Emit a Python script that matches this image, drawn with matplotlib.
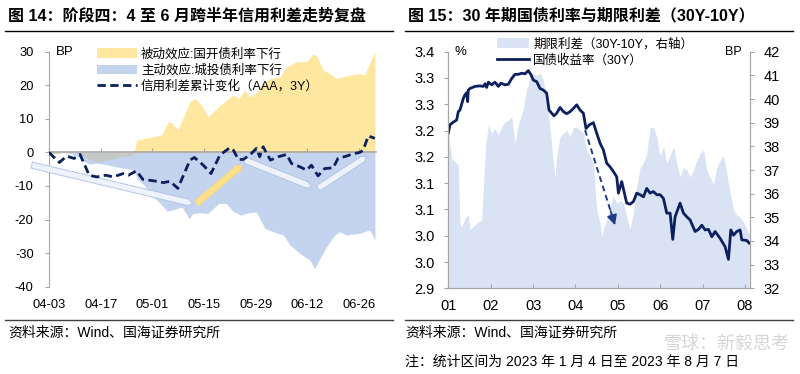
import matplotlib
matplotlib.use("Agg")
import matplotlib.pyplot as plt
from matplotlib.patches import Patch
from matplotlib.lines import Line2D

plt.rcParams['font.family'] = ['Liberation Sans', 'Noto Sans CJK SC', 'DejaVu Sans']
plt.rcParams['axes.unicode_minus'] = False

# ---------- 图14 数据 (x = 距 04-03 的天数) ----------
TICK_DAYS = [0, 14, 28, 42, 56, 70, 84]
TICK_LABELS_14 = ['04-03', '04-17', '05-01', '05-15', '05-29', '06-12', '06-26']

# 被动效应:国开债利率下行
passive_days = [0, 2, 4, 6, 8, 10, 12, 14, 16, 18, 20, 22, 23, 23.7, 27, 30.5, 32.3, 33.2, 35,
                38.2, 39.5, 41.3, 43.1, 44.5, 45.9, 48.1, 49.9, 51.5, 53.1, 54.4, 56, 58, 59.8,
                62.6, 64.4, 67, 69.8, 71.6, 72.5, 74.3, 76.1, 77.9, 79.5, 81.5, 84.2, 85.5, 88.3]
passive_vals = [0, -0.5, 0.3, 0.2, -0.3, -1.5, -2.5, -2.8, -2.2, -1.6, -1.3, -1.0, -0.3, 3.7, 4.4,
                5.2, 9.1, 8.8, 6.8, 15.1, 16.1, 14.1, 10.6, 12.1, 13.6, 15.6, 17.1, 16.1, 18.6,
                16.6, 17.6, 20.5, 22.0, 22.5, 25.5, 27.0, 27.0, 29.3, 28.8, 24.5, 23.5, 22.0,
                22.5, 23.0, 23.5, 23.0, 30.0]

# 主动效应:城投债利率下行
active_days = [0, 2, 4, 6, 8, 9.3, 11, 13, 15, 17, 19, 21, 23, 24, 26, 28, 30, 32, 34, 36, 38,
               39, 41, 43, 46, 48, 50, 52, 54, 56.2, 58.5, 60.7, 63.5, 65.3, 68, 70.7, 72, 73.4,
               75.2, 77.4, 78.8, 80.5, 82.5, 84.2, 86.9, 88.3]
active_vals = [0, -0.3, 0, -0.3, -1.5, -2.5, -3.5, -3.2, -3.5, -4, -4.5, -4.8, -5.3, -8, -10,
               -13, -15, -17.5, -17, -16.2, -19.7, -18.2, -18, -18.2, -15.2, -15.2, -17.7,
               -18.7, -18, -17.7, -22.6, -23.6, -24.6, -27.6, -30.1, -32.1, -34.6, -31.6,
               -28.1, -24.6, -23.6, -24.6, -24.3, -24.1, -23.1, -26.1]

# 信用利差累计变化（AAA，3Y）
spread_days = [0, 2.8, 4.8, 6.8, 8.4, 10.9, 12.9, 15.4, 17.4, 20.1, 21.5, 23.7, 25.4, 29.2, 31,
               32.8, 34.9, 38.2, 39.4, 41.8, 43.9, 46.3, 49, 50, 51.3, 52.6, 54.4, 56.2, 57.1,
               58, 59, 60, 62.1, 64.4, 65.7, 68, 69.8, 71.1, 72.9, 74.7, 77, 78.3, 80.6, 82.4,
               84.2, 85.1, 86.5, 88.3]
spread_vals = [0, -3, -1.1, -1.8, -0.6, -6.8, -7.3, -6.8, -7.3, -6.3, -6.8, -5.5, -8, -8.6, -9,
               -8.6, -10.7, -2.3, -1.5, -3.8, -6.3, -0.8, 1.4, 0.6, -2.1, -2.1, -0.8, 1.2, -1.3,
               1.7, -0.3, -2.3, -1.3, -0.6, -3.3, -4.3, -5.3, -3.8, -7, -4.8, -4.6, -1.8, -1.1,
               -0.4, 0, 0.6, 4.9, 4.2]

# 示意箭头 (起点, 终点)
blue_arrows = [((-4.7, -3.8), (38.9, -15.2)),
               ((53.1, -2.3), (71.1, -10.2)),
               ((72.9, -10.7), (86.0, -1.3))]
yellow_arrow = ((40, -15.2), (52.2, -3.8))

# ---------- 图15 数据 (x = 月份, 1 = 1月初) ----------
MONTH_TICKS = [1, 2, 3, 4, 5, 6, 7, 8]
MONTH_LABELS = ['01', '02', '03', '04', '05', '06', '07', '08']
LEFT_TICKS = [2.90, 2.95, 3.00, 3.05, 3.10, 3.15, 3.20, 3.25, 3.30, 3.35]
LEFT_LABELS = ['2.9', '3.0', '3.0', '3.1', '3.1', '3.2', '3.2', '3.3', '3.3', '3.4']

yield_m = [1.000, 1.039, 1.118, 1.197, 1.236, 1.275, 1.354, 1.393, 1.433, 1.456, 1.472, 1.511,
           1.629, 1.747, 1.826, 1.865, 1.905, 1.944, 2.023, 2.101, 2.180, 2.243, 2.338, 2.416,
           2.495, 2.574, 2.652, 2.731, 2.810, 2.888, 2.951, 3.006, 3.085, 3.164, 3.242, 3.321,
           3.376, 3.439, 3.494, 3.557, 3.636, 3.714, 3.793, 3.872, 3.950, 4.029, 4.108, 4.186,
           4.249, 4.328, 4.422, 4.501, 4.580, 4.659, 4.737, 4.816, 4.895, 4.973, 5.013, 5.091,
           5.209, 5.288, 5.367, 5.445, 5.524, 5.603, 5.681, 5.760, 5.839, 5.917, 5.996, 6.075,
           6.153, 6.232, 6.295, 6.350, 6.468, 6.547, 6.626, 6.704, 6.822, 6.901, 6.980, 7.058,
           7.137, 7.216, 7.294, 7.412, 7.530, 7.609, 7.664, 7.727, 7.806, 7.884, 7.924, 8.042,
           8.097]
yield_30y = [3.195, 3.211, 3.216, 3.220, 3.236, 3.239, 3.261, 3.268, 3.272, 3.255, 3.277, 3.280,
             3.284, 3.285, 3.284, 3.289, 3.282, 3.292, 3.287, 3.292, 3.284, 3.290, 3.287, 3.288,
             3.299, 3.307, 3.307, 3.309, 3.308, 3.314, 3.306, 3.296, 3.293, 3.280, 3.277, 3.271,
             3.239, 3.233, 3.228, 3.233, 3.244, 3.236, 3.232, 3.236, 3.242, 3.249, 3.239, 3.233,
             3.204, 3.211, 3.215, 3.195, 3.176, 3.163, 3.138, 3.131, 3.122, 3.112, 3.081, 3.103,
             3.062, 3.060, 3.065, 3.081, 3.078, 3.074, 3.090, 3.081, 3.084, 3.078, 3.078, 3.071,
             3.043, 3.043, 2.993, 3.036, 3.062, 3.043, 3.036, 3.030, 3.008, 3.012, 3.020, 3.011,
             3.012, 2.998, 3.008, 2.995, 2.979, 2.955, 3.011, 3.001, 3.008, 3.011, 2.992, 2.991,
             2.986]

term_m = [1.000, 1.079, 1.157, 1.236, 1.275, 1.315, 1.393, 1.472, 1.511, 1.590, 1.669, 1.787,
          1.881, 1.944, 2.023, 2.101, 2.180, 2.259, 2.338, 2.416, 2.495, 2.574, 2.652, 2.770,
          2.849, 2.888, 2.928, 3.006, 3.085, 3.164, 3.242, 3.321, 3.400, 3.478, 3.518, 3.557,
          3.636, 3.714, 3.793, 3.872, 3.950, 4.029, 4.108, 4.186, 4.265, 4.344, 4.422, 4.501,
          4.580, 4.619, 4.659, 4.737, 4.816, 4.895, 4.973, 5.052, 5.131, 5.209, 5.288, 5.367,
          5.445, 5.524, 5.603, 5.681, 5.760, 5.839, 5.917, 5.996, 6.075, 6.153, 6.232, 6.311,
          6.389, 6.468, 6.547, 6.626, 6.704, 6.783, 6.862, 6.940, 7.019, 7.098, 7.176, 7.255,
          7.334, 7.412, 7.491, 7.530, 7.609, 7.688, 7.727, 7.806, 7.884, 7.963, 8.042, 8.097]
term_spread = [38.5, 37.5, 37.35, 37.2, 34.7, 34.6, 34.96, 35.1, 34.5, 34.6, 34.75, 34.9, 38.06,
               38.9, 38.55, 38.76, 38.48, 38.83, 39.04, 39.1, 39.25, 38.13, 38.9, 39.6, 40.45,
               40.6, 41.0, 41.1, 41.0, 41.1, 40.8, 39.9, 38.8, 37.3, 36.7, 37.6, 38.4, 38.55,
               38.7, 38.4, 38.8, 38.8, 38.7, 38.55, 37.8, 37.6, 37.3, 35.3, 34.75, 34.2, 34.5,
               34.9, 35.45, 35.9, 35.6, 35.7, 35.6, 35.0, 34.5, 35.2, 36.3, 37.1, 37.3, 37.7,
               38.8, 38.8, 38.4, 37.6, 38.0, 37.3, 37.6, 38.0, 37.3, 36.7, 37.1, 37.0, 36.7,
               37.0, 37.4, 37.7, 37.85, 37.0, 36.7, 36.4, 37.1, 37.4, 37.6, 37.3, 36.4, 35.7,
               35.3, 35.1, 35.0, 34.8, 34.5, 34.3]

dash_arrow = ((4.226, 3.201), (4.934, 3.020))

YELLOW = '#FFE79F'
BLUE = '#9EB6E3'
NAVY = '#0C1F5E'
GREY = '#A6A6A6'
LIGHT = '#DAE3F3'

fig = plt.figure(figsize=(8, 3.74), dpi=100)
W, H = 800, 374


def fx(px):
    return px / W


def fy(py):
    return 1 - py / H


# ---------- 左图 ----------
ax = fig.add_axes([fx(49), fy(286.7), fx(327), 235 / H])
ax.fill_between(passive_days, 0, passive_vals, color=YELLOW, lw=0, zorder=1)
ax.fill_between(active_days, 0, active_vals, color=BLUE, alpha=0.6, lw=0, zorder=2)
ax.plot(spread_days, spread_vals, color=NAVY, lw=2, ls=(0, (3, 1.6)), zorder=5)

for (s, e) in blue_arrows:
    ax.annotate('', xy=e, xytext=s, annotation_clip=False,
                arrowprops=dict(arrowstyle='simple,head_length=0.4,head_width=0.6,tail_width=0.45',
                                fc='#EEF2FA', ec='#AFC2E4', lw=0.7, ls=(0, (2, 1)),
                                mutation_scale=10, shrinkA=0, shrinkB=0), zorder=4)
ax.annotate('', xy=yellow_arrow[1], xytext=yellow_arrow[0],
            arrowprops=dict(arrowstyle='simple,head_length=0.45,head_width=0.7,tail_width=0.45',
                            fc='#FFE08A', ec='#F8D878', lw=0.5,
                            mutation_scale=10, shrinkA=0, shrinkB=0), zorder=4)

ax.set_xlim(0, 88.6)
ax.set_ylim(-40, 30)
ax.set_yticks(range(-40, 31, 10))
for s in ['top', 'right']:
    ax.spines[s].set_visible(False)
ax.spines['left'].set_color(GREY)
ax.spines['bottom'].set_position(('data', 0))
ax.spines['bottom'].set_color(GREY)
ax.spines['bottom'].set_linewidth(1.2)
ax.spines['bottom'].set_zorder(3)
ax.set_xticks(TICK_DAYS)
ax.tick_params(axis='x', direction='in', length=3, color=GREY, labelbottom=False)
ax.tick_params(axis='y', direction='out', length=3, color=GREY, labelsize=9.3, pad=8)
sec = ax.secondary_xaxis('bottom')
sec.set_xticks(TICK_DAYS, TICK_LABELS_14)
sec.tick_params(length=0, labelsize=9.3, pad=9)
sec.spines['bottom'].set_visible(False)
ax.text(0.02, 1.0, 'BP', transform=ax.transAxes, fontsize=9.5, va='center', ha='left')

h1 = [Patch(fc=YELLOW, lw=0), Patch(fc=BLUE, alpha=0.6, lw=0),
      Line2D([], [], color=NAVY, lw=2, ls=(0, (3, 1.6)))]
ax.legend(h1, ['被动效应:国开债利率下行', '主动效应:城投债利率下行', '信用利差累计变化（AAA，3Y）'],
          loc='upper left', bbox_to_anchor=(0.147, 1.015), frameon=False, fontsize=9,
          borderpad=0, borderaxespad=0, handlelength=3.2, handleheight=0.75,
          handletextpad=0.3, labelspacing=0.3)

# ---------- 右图 ----------
axl = fig.add_axes([fx(448.3), fy(288.3), fx(301.7), 236.6 / H])
axr = axl.twinx()
axr.fill_between(term_m, 32, term_spread, color=LIGHT, lw=0)
axr.set_ylim(32, 42)
axr.set_yticks(range(32, 43))
axl.set_zorder(axr.get_zorder() + 1)
axl.patch.set_visible(False)
axl.plot(yield_m, yield_30y, color=NAVY, lw=2)
(sx, sy), (ex, ey) = dash_arrow
axl.plot([sx, sx + (ex - sx) * 0.9], [sy, sy + (ey - sy) * 0.9], color='#1F3C88', lw=1.4, ls=(0, (3, 2)))
axl.annotate('', xy=(ex, ey), xytext=(sx + (ex - sx) * 0.85, sy + (ey - sy) * 0.85),
             arrowprops=dict(arrowstyle='-|>,head_length=0.6,head_width=0.3', color='#1F3C88',
                             lw=1.2, mutation_scale=10, shrinkA=0, shrinkB=0))
axl.set_xlim(1, 8.117)
axl.set_ylim(2.90, 3.35)
axl.set_yticks(LEFT_TICKS, LEFT_LABELS)
axl.set_xticks(MONTH_TICKS, MONTH_LABELS)
for a in (axl, axr):
    a.spines['top'].set_visible(False)
    for s in ['left', 'right', 'bottom']:
        a.spines[s].set_color(GREY)
axl.tick_params(axis='x', direction='in', length=3, color=GREY, labelsize=10.5, pad=8)
axl.tick_params(axis='y', direction='out', length=3, color=GREY, labelsize=10.5, pad=7)
axr.tick_params(axis='y', direction='out', length=3, color=GREY, labelsize=10.5, pad=7)
axl.text(0.022, 1.0, '%', transform=axl.transAxes, fontsize=9.5, va='center', ha='left')
axl.text(0.973, 1.0, 'BP', transform=axl.transAxes, fontsize=9, va='center', ha='right')

h2 = [Patch(fc=LIGHT, lw=0), Line2D([], [], color=NAVY, lw=2)]
axl.legend(h2, ['期限利差（30Y-10Y，右轴）', '国债收益率（30Y）'],
           loc='upper left', bbox_to_anchor=(0.161, 1.058), frameon=False, fontsize=9,
           borderpad=0, borderaxespad=0, handlelength=2.6, handleheight=0.75,
           handletextpad=0.3, labelspacing=0.3)

# ---------- 标题、分隔线、来源 ----------
fig.text(fx(8), fy(16), '图 14：阶段四：4 至 6 月跨半年信用利差走势复盘', fontsize=11.5,
         fontweight='bold', va='center', ha='left')
fig.text(fx(408), fy(16), '图 15：30 年期国债利率与期限利差（30Y-10Y）', fontsize=11.5,
         fontweight='bold', va='center', ha='left')
for x0, x1 in [(5, 393), (405, 793)]:
    fig.add_artist(Line2D([fx(x0), fx(x1)], [fy(31), fy(31)], color='black', lw=1))
    fig.add_artist(Line2D([fx(x0), fx(x1)], [fy(320), fy(320)], color='#404040', lw=1))
fig.text(fx(8), fy(333), '资料来源：Wind、国海证券研究所', fontsize=10, va='center', ha='left')
fig.text(fx(405), fy(333), '资料来源：Wind、国海证券研究所', fontsize=10, va='center', ha='left')
fig.text(fx(405), fy(362), '注：统计区间为 2023 年 1 月 4 日至 2023 年 8 月 7 日', fontsize=10,
         va='center', ha='left')
fig.text(fx(790), fy(344), '雪球：新毅思考', fontsize=13, color='#BBBBBB', alpha=0.6,
         va='center', ha='right')

fig.savefig('out.png', dpi=100)
